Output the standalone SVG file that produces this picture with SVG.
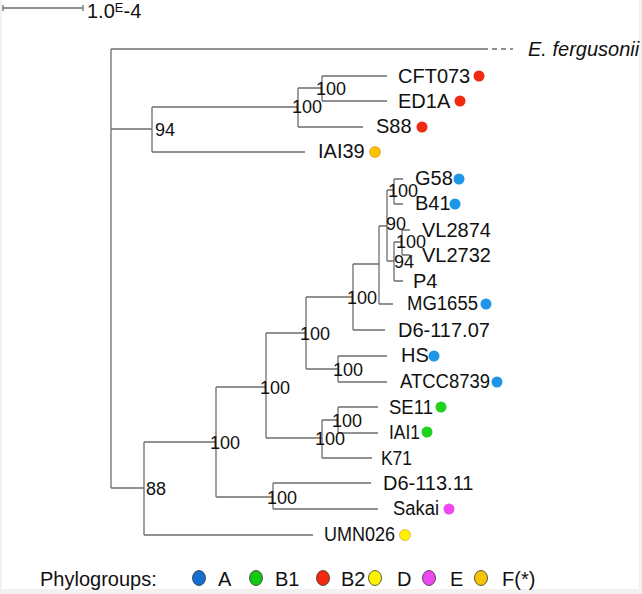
<svg xmlns="http://www.w3.org/2000/svg" width="642" height="594" viewBox="0 0 642 594">
<style>
.br{stroke:#6e6e6e;stroke-width:1.3;fill:none}
.tx{font-family:"Liberation Sans",Arial,sans-serif;font-size:20px;fill:#111}
.bs{font-family:"Liberation Sans",Arial,sans-serif;font-size:18px;fill:#111}
.dot{stroke:#c06000;stroke-width:0.4}
.A{fill:#1e96e8}.B1{fill:#1ed21e}.B2{fill:#f02a10}.D{fill:#fff200}.E{fill:#f048f0}.F{fill:#f8c400}
.lg{stroke:#333;stroke-width:0.8}
</style>
<rect width="642" height="594" fill="#f4f0f0"/>
<rect x="2" y="0" width="637" height="589" fill="#ffffff"/>
<g id="scale">
<path class="br" d="M3 8H83M3 5V11M83 5V11" stroke="#999"/>
<text class="tx" x="87" y="18">1.0<tspan font-size="13" dy="-6">E</tspan><tspan dy="6">-4</tspan></text>
</g>
<g id="connectors">
<path class="br" d="M111 49V488"/>
<path class="br" d="M111 49H483"/>
<path class="br" d="M483 49H513" stroke-dasharray="5,4"/>
<path class="br" d="M111 129H152M152 107V152M152 107H298M152 152H305"/>
<path class="br" d="M298 88V127M298 88H322M298 127H363M322 76V101M322 76H387M322 101H387"/>
<path class="br" d="M111 488H144M144 442V535M144 535H313M144 442H216"/>
<path class="br" d="M216 387V497M216 497H273M273 483V509M273 483H371M273 509H378"/>
<path class="br" d="M216 387H266M266 333V438M266 438H322M322 420V458M322 458H372M322 420H338M338 407V433M338 407H378M338 433H378"/>
<path class="br" d="M266 333H306M306 297V369M306 369H338M338 356V382M338 356H387M338 382H387"/>
<path class="br" d="M306 297H353M353 264V330M353 330H385M353 264H379M379 226V304M379 304H393M379 226H387"/>
<path class="br" d="M387 190V261M387 190H394M394 179V204M394 179H403M394 204H403"/>
<path class="br" d="M387 261H394M394 242V281M394 281H403M394 242H402M402 230V255M402 230H410M402 255H410"/>
</g>
<g id="bootstrap">
<text class="bs" x="155" y="136">94</text>
<text class="bs" x="292" y="113">100</text>
<text class="bs" x="316" y="95">100</text>
<text class="bs" x="146" y="495">88</text>
<text class="bs" x="210" y="449">100</text>
<text class="bs" x="267" y="504">100</text>
<text class="bs" x="260" y="394">100</text>
<text class="bs" x="315" y="445">100</text>
<text class="bs" x="332" y="427">100</text>
<text class="bs" x="300" y="340">100</text>
<text class="bs" x="333" y="376">100</text>
<text class="bs" x="347" y="304">100</text>
<text class="bs" x="386" y="230">90</text>
<text class="bs" x="388" y="197">100</text>
<text class="bs" x="394" y="268">94</text>
<text class="bs" x="396" y="248">100</text>
</g>
<g id="node-fergusonii"><text class="tx" x="528" y="56" font-style="italic">E. fergusonii</text></g>
<g id="node-CFT073"><text class="tx" x="398" y="83">CFT073</text><circle class="B2" cx="479" cy="76" r="5.5"/></g>
<g id="node-ED1A"><text class="tx" x="398" y="108">ED1A</text><circle class="B2" cx="460" cy="101" r="5.5"/></g>
<g id="node-S88"><text class="tx" x="376" y="133">S88</text><circle class="B2" cx="422" cy="127" r="5.5"/></g>
<g id="node-IAI39"><text class="tx" x="318" y="158">IAI39</text><circle class="F dot" cx="375" cy="152" r="5.5"/></g>
<g id="node-G58"><text class="tx" x="415" y="185">G58</text><circle class="A" cx="459" cy="179" r="5.5"/></g>
<g id="node-B41"><text class="tx" x="415" y="210">B41</text><circle class="A" cx="455" cy="204" r="5.5"/></g>
<g id="node-VL2874"><text class="tx" x="422" y="237">VL2874</text></g>
<g id="node-VL2732"><text class="tx" x="422" y="262">VL2732</text></g>
<g id="node-P4"><text class="tx" x="413" y="288">P4</text></g>
<g id="node-MG1655"><text class="tx" x="407" y="310" textLength="71" lengthAdjust="spacingAndGlyphs">MG1655</text><circle class="A" cx="486" cy="304" r="5.5"/></g>
<g id="node-D6-117"><text class="tx" x="398" y="337">D6-117.07</text></g>
<g id="node-HS"><text class="tx" x="401" y="362">HS</text><circle class="A" cx="434" cy="356" r="5.5"/></g>
<g id="node-ATCC8739"><text class="tx" x="400" y="388" textLength="90" lengthAdjust="spacingAndGlyphs">ATCC8739</text><circle class="A" cx="497" cy="382" r="5.5"/></g>
<g id="node-SE11"><text class="tx" x="389" y="414" textLength="44" lengthAdjust="spacingAndGlyphs">SE11</text><circle class="B1" cx="441" cy="407" r="5.5"/></g>
<g id="node-IAI1"><text class="tx" x="389" y="439" textLength="31" lengthAdjust="spacingAndGlyphs">IAI1</text><circle class="B1" cx="427" cy="432" r="5.5"/></g>
<g id="node-K71"><text class="tx" x="381" y="465" textLength="31" lengthAdjust="spacingAndGlyphs">K71</text></g>
<g id="node-D6-113"><text class="tx" x="383" y="490">D6-113.11</text></g>
<g id="node-Sakai"><text class="tx" x="393" y="515" textLength="46" lengthAdjust="spacingAndGlyphs">Sakai</text><circle class="E" cx="449" cy="509" r="5.5"/></g>
<g id="node-UMN026"><text class="tx" x="324" y="541" textLength="71" lengthAdjust="spacingAndGlyphs">UMN026</text><circle class="D dot" cx="405" cy="535" r="5.5"/></g>
<g id="legend">
<text class="tx" x="40" y="586">Phylogroups:</text>
<ellipse class="lg" cx="199" cy="578" rx="6.5" ry="7.5" fill="#1470d0"/><text class="tx" x="218" y="586">A</text>
<ellipse class="lg" cx="256" cy="578" rx="6.5" ry="7.5" fill="#14c814"/><text class="tx" x="275" y="586">B1</text>
<ellipse class="lg" cx="323" cy="578" rx="6.5" ry="7.5" fill="#f02a10"/><text class="tx" x="341" y="586">B2</text>
<ellipse class="lg" cx="375" cy="578" rx="6.5" ry="7.5" fill="#fff200"/><text class="tx" x="397" y="586">D</text>
<ellipse class="lg" cx="429" cy="578" rx="6.5" ry="7.5" fill="#f048f0"/><text class="tx" x="450" y="586">E</text>
<ellipse class="lg" cx="481" cy="578" rx="6.5" ry="7.5" fill="#f8c400"/><text class="tx" x="502" y="586">F(*)</text>
</g>
</svg>
